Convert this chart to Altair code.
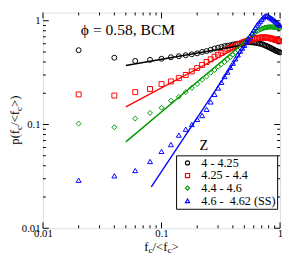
import altair as alt
import pandas as pd

FONT = "Liberation Serif"

# ---------------- data ----------------
X = [0.02, 0.04, 0.06, 0.08, 0.10, 0.12, 0.14, 0.16, 0.18, 0.20,
     0.22, 0.24, 0.26, 0.28, 0.30, 0.32, 0.34, 0.36, 0.38, 0.40,
     0.42, 0.44, 0.46, 0.48, 0.50, 0.52, 0.54, 0.56, 0.58, 0.60,
     0.62, 0.64, 0.66, 0.68, 0.70, 0.72, 0.74, 0.76, 0.78, 0.80,
     0.82, 0.84, 0.86, 0.88, 0.90, 0.92, 0.94, 0.96, 0.98, 1.00]

Y_Z1 = [0.52, 0.44, 0.41, 0.42, 0.43, 0.445, 0.455, 0.465, 0.475, 0.485,
        0.50, 0.51, 0.525, 0.54, 0.55, 0.56, 0.57, 0.575, 0.58, 0.59,
        0.595, 0.60, 0.605, 0.61, 0.615, 0.62, 0.62, 0.62, 0.62, 0.615,
        0.615, 0.61, 0.605, 0.60, 0.595, 0.59, 0.58, 0.575, 0.565, 0.56,
        0.55, 0.545, 0.535, 0.53, 0.52, 0.515, 0.51, 0.505, 0.50, 0.495]

Y_Z2 = [0.195, 0.19, 0.205, 0.22, 0.245, 0.26, 0.28, 0.30, 0.325, 0.35,
        0.375, 0.40, 0.425, 0.45, 0.47, 0.49, 0.51, 0.53, 0.545, 0.56,
        0.575, 0.59, 0.60, 0.615, 0.625, 0.635, 0.645, 0.655, 0.66, 0.67,
        0.675, 0.68, 0.685, 0.685, 0.69, 0.69, 0.69, 0.69, 0.685, 0.685,
        0.68, 0.675, 0.67, 0.665, 0.66, 0.655, 0.65, 0.645, 0.64, 0.635]

Y_Z3 = [0.102, 0.094, 0.114, 0.129, 0.145, 0.17, 0.185, 0.205, 0.225, 0.245,
        0.27, 0.29, 0.315, 0.335, 0.36, 0.38, 0.40, 0.425, 0.445, 0.47,
        0.495, 0.52, 0.55, 0.58, 0.61, 0.64, 0.67, 0.70, 0.73, 0.755,
        0.775, 0.795, 0.81, 0.825, 0.835, 0.845, 0.855, 0.86, 0.865, 0.87,
        0.87, 0.87, 0.87, 0.865, 0.865, 0.86, 0.86, 0.855, 0.85, 0.85]

Y_Z4 = [0.029, 0.032, 0.036, 0.044, 0.055, 0.064, 0.079, 0.09, 0.10, 0.112,
        0.122, 0.14, 0.165, 0.195, 0.225, 0.255, 0.29, 0.32, 0.355, 0.39,
        0.43, 0.47, 0.51, 0.545, 0.58, 0.63, 0.67, 0.71, 0.76, 0.81,
        0.86, 0.91, 0.95, 0.99, 1.03, 1.07, 1.10, 1.12, 1.12, 1.10,
        1.08, 1.06, 1.04, 1.02, 1.00, 0.98, 0.96, 0.94, 0.92, 0.90]

SERIES = ["4 - 4.25", "4.25 - 4.4", "4.4 - 4.6", "4.6 -\u00a0 4.62 (SS)"]
COLORS = ["#000000", "#ff0000", "#009a00", "#0000ff"]
SHAPES = ["circle", "square", "diamond", "triangle-up"]

# power-law fit lines: start / end points
FIT_X0 = [0.05, 0.05, 0.05, 0.082]
FIT_Y0 = [0.37, 0.148, 0.068, 0.025]
FIT_X1 = [0.48, 0.5, 0.5, 0.55]
FIT_Y1 = [0.58, 0.60, 0.62, 0.66]

MAJOR = [0.01, 0.1, 1]
MINOR = [0.02, 0.03, 0.04, 0.05, 0.06, 0.07, 0.08, 0.09,
         0.2, 0.3, 0.4, 0.5, 0.6, 0.7, 0.8, 0.9]

# ---------------- tables ----------------
rows = []
for name, yv_list in zip(SERIES, [Y_Z1, Y_Z2, Y_Z3, Y_Z4]):
    for xv, yv in zip(X, yv_list):
        rows.append({"series": name, "x": xv, "y": yv})
pts = pd.DataFrame(rows)

W, H = 244, 222
xs = alt.Scale(type="log", domain=[0.01, 1], nice=False)
ys = alt.Scale(type="log", domain=[0.01, 1.2], nice=False)
cs = alt.Scale(domain=SERIES, range=COLORS)
ss = alt.Scale(domain=SERIES, range=SHAPES)

xaxis = alt.Axis(values=MAJOR, ticks=False, domain=False, grid=False, title=None,
                 labelFont=FONT, labelFontSize=11, labelColor="black",
                 format="~g", labelPadding=0, labelFlush=False)
yaxis = alt.Axis(values=MAJOR, ticks=False, domain=False, grid=False, title=None,
                 labelFont=FONT, labelFontSize=11, labelColor="black",
                 format="~g", labelPadding=3, labelFlush=False)

legend = alt.Legend(title=None, orient="none", legendX=137, legendY=147,
                    strokeColor="black", fillColor="white", padding=1.5,
                    labelFont=FONT, labelFontSize=12.5, labelColor="black",
                    symbolSize=18, symbolStrokeWidth=1.2, rowPadding=0,
                    labelOffset=8, symbolOffset=4, labelLimit=200)

points = alt.Chart(pts).mark_point(filled=False, size=26, strokeWidth=1.0, opacity=1).encode(
    x=alt.X("x:Q", scale=xs, axis=xaxis),
    y=alt.Y("y:Q", scale=ys, axis=yaxis),
    color=alt.Color("series:N", scale=cs, legend=legend, sort=SERIES),
    shape=alt.Shape("series:N", scale=ss, legend=legend, sort=SERIES),
)

line_layers = []
for name, col, x0, y0, x1, y1 in zip(SERIES, COLORS, FIT_X0, FIT_Y0, FIT_X1, FIT_Y1):
    d = pd.DataFrame({"x": [x0, x1], "y": [y0, y1]})
    line_layers.append(alt.Chart(d).mark_line(strokeWidth=1.4, color=col).encode(
        x=alt.X("x:Q", scale=xs), y=alt.Y("y:Q", scale=ys)))

# inward ticks on all four sides
tick_layers = []
for vals, L in [(MAJOR, 6), (MINOR, 3)]:
    tdx = pd.DataFrame({"x": vals})
    tdy = pd.DataFrame({"y": vals})
    for y1, y2 in [(H, H - L), (0, L)]:
        tick_layers.append(alt.Chart(tdx).mark_rule(color="black", strokeWidth=1).encode(
            x=alt.X("x:Q", scale=xs), y=alt.value(y1), y2=alt.value(y2)))
    for x1, x2 in [(0, L), (W, W - L)]:
        tick_layers.append(alt.Chart(tdy).mark_rule(color="black", strokeWidth=1).encode(
            y=alt.Y("y:Q", scale=ys), x=alt.value(x1), x2=alt.value(x2)))


def txt(s, x, y, size, angle=0, align="left"):
    return alt.Chart(pd.DataFrame({"s": [s]})).mark_text(
        font=FONT, fontSize=size, align=align, baseline="alphabetic",
        angle=angle, color="black").encode(
        text="s:N", x=alt.value(x), y=alt.value(y))


annots = [
    txt("\u03d5 = 0.58, BCM", 39, 23, 16),
    txt("Z", 161, 141, 14.5),
    # x title  f_c/<f_c>
    txt("f", 104.3, 245, 13),
    txt("c", 108.6, 248, 9.5),
    txt("/<f", 112.8, 245, 13),
    txt("c", 128.1, 248, 9.5),
    txt(">", 132.3, 245, 13),
    # y title  p(f_c/<f_c>)
    txt("p(f", -25, 136, 13, angle=270),
    txt("c", -21.5, 120.8, 9.5, angle=270),
    txt("/<f", -25, 116.6, 13, angle=270),
    txt("c", -21.5, 101.3, 9.5, angle=270),
    txt(">)", -25, 97.1, 13, angle=270),
]

chart = alt.layer(points, *tick_layers, *line_layers, *annots).properties(
    width=W, height=H,
    autosize=alt.AutoSizeParams(type="none"),
    padding={"left": 36, "top": 1, "right": 2, "bottom": 28},
).configure_view(stroke="black", strokeWidth=1.5).configure(background="white")

chart.save("out.html", embed_options={"renderer": "svg", "actions": False})
